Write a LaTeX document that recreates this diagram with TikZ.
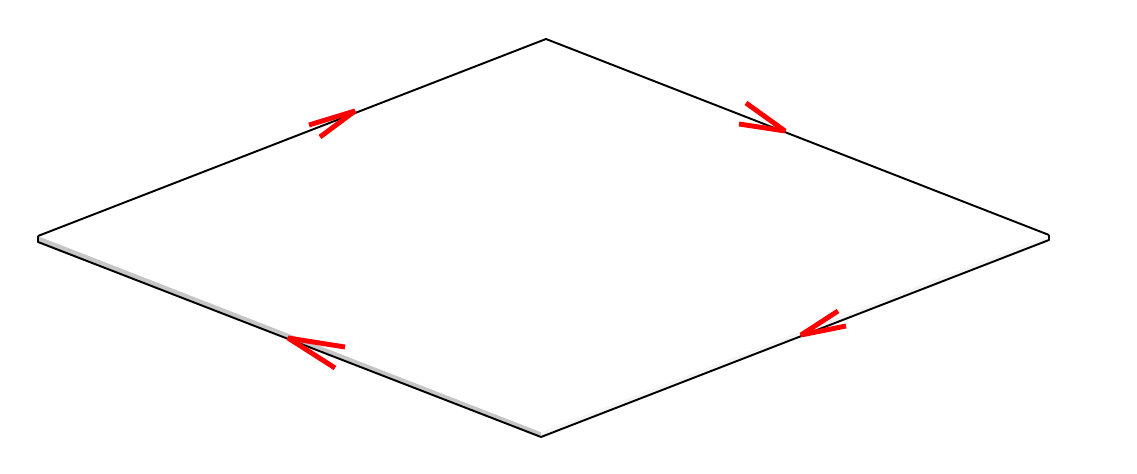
\documentclass[tikz,border=0pt]{standalone}
\usepackage{tikz}
\usepackage{amsmath}

\begin{document}
\begin{tikzpicture}[x=0.01cm,y=-0.01cm]
\useasboundingbox (0,0) rectangle (1137,474);
% side faces
\draw[draw=none,fill=gray!45] (38,236) -- (541,432) -- (541,437) -- (38,242) -- (38,236);
\draw[draw=none,fill=gray!8] (541,432) -- (1049,235) -- (1049,240) -- (541,437) -- (541,432);
% top face
\draw[draw=none,fill=white] (38,236) -- (546,39) -- (1049,235) -- (541,432) -- (38,236);

\draw[line width=0.55pt,line join=round] (38,236) -- (546,39) -- (1049,235);
\draw[line width=0.55pt,line join=round] (38,236) -- (38,242) -- (541,437) -- (1049,240) -- (1049,235);

% red arrows
\draw[red,line width=1.4pt,line join=bevel] (309,125) -- (355,111) -- (320,137);
\draw[red,line width=1.4pt,line join=bevel] (739,124) -- (785,131) -- (746,103);
\draw[red,line width=1.4pt,line join=bevel] (846,326) -- (801,335) -- (838,311);
\draw[red,line width=1.4pt,line join=bevel] (345,347) -- (288,338) -- (335,368);
\end{tikzpicture}
\end{document}
